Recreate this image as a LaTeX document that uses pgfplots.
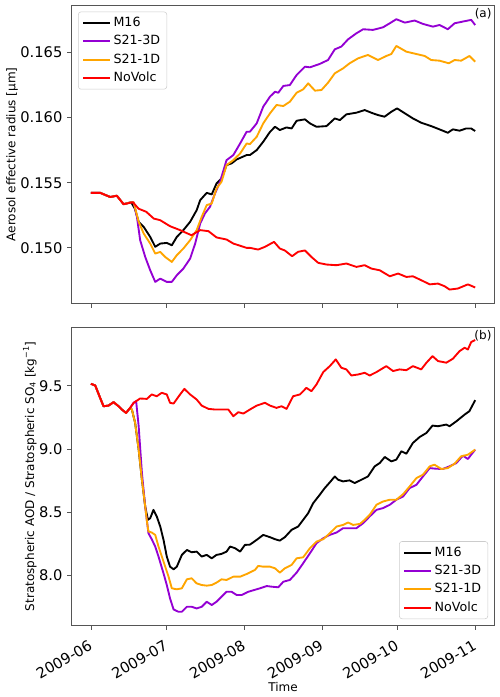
\documentclass[border=0pt]{standalone}
\usepackage{fontspec}
\setmainfont{DejaVu Sans}
\usepackage{pgfplots}
\pgfplotsset{compat=1.18}
\definecolor{mpurple}{HTML}{9400D3}
\definecolor{morange}{HTML}{FFA500}
\definecolor{mred}{HTML}{FF0000}
\definecolor{spine}{HTML}{555555}
\pgfplotsset{
  myaxis/.style={
    scale only axis, width=317pt, height=223.2pt,
    xmin=-7.65, xmax=160.65,
    xtick={0,30,61,92,122,153},
    axis line style={spine, line width=0.6pt},
    tick style={spine, line width=0.6pt},
    major tick length=3.5pt,
    tick align=outside,
    xtick pos=bottom, ytick pos=left,
    tick label style={font=\fontsize{11}{13}\selectfont},
    /pgf/number format/assume math mode=true,
    label style={font=\fontsize{9}{11}\selectfont},
    ylabel shift=-5pt,
    legend style={font=\fontsize{9.5}{11}\selectfont, draw=black!20, rounded corners=2pt,
      inner xsep=3pt, inner ysep=2pt, row sep=1.2pt},
    legend cell align=left,
    legend image code/.code={\draw[#1, line width=1.5pt] (0cm,0cm) -- (0.7cm,0cm);},
    every axis plot/.append style={line width=1.4pt, line join=round},
  }
}
\begin{document}
\begin{tikzpicture}
\useasboundingbox (0,0) rectangle (375pt,522.75pt);
% ---------------- Panel (a)
\begin{axis}[myaxis, at={(53.8pt,295.3pt)}, anchor=south west,
  ymin=0.14575, ymax=0.16858,
  ytick={0.150,0.155,0.160,0.165},
  yticklabel style={/pgf/number format/fixed, /pgf/number format/precision=3, /pgf/number format/fixed zerofill},
  xticklabels={},
  ylabel={Aerosol effective radius [μm]},
  legend style={at={(0.015,0.98)}, anchor=north west},
]
\addplot[black] coordinates {
(0,0.15422)(3.7,0.15422)(7.7,0.1539)(10.3,0.1540)(13,0.15335)(16,0.1535)
(17.5,0.1530)(19,0.1520)(21,0.15161)(23.6,0.15084)(25.6,0.15008)(27.6,0.15033)(30.2,0.15038)
(32.2,0.1502)(34.2,0.15084)(36.8,0.15136)(39.5,0.1520)(42.1,0.15289)(43.5,0.15366)
(46.1,0.15422)(48.1,0.1541)(50,0.15494)(52,0.15532)(54,0.15635)(56,0.15648)(58,0.15678)
(62,0.15712)(63.3,0.15712)(66,0.1575)(68.6,0.15814)(71.3,0.1589)(73.3,0.15929)(75.2,0.15904)
(77.9,0.15924)(79.9,0.15916)(81.9,0.15975)(85.2,0.15986)(87.2,0.15955)(89.8,0.15929)
(93.8,0.15934)(97.1,0.15993)(99.1,0.1598)(101.7,0.16024)(105.7,0.16037)(109,0.16057)
(112.3,0.16032)(114.3,0.16019)(116.9,0.16006)(119.6,0.16044)(121.9,0.1607)(125,0.16032)
(128.2,0.15993)(131.5,0.1596)(135.5,0.15934)(138.8,0.15909)(142.1,0.15883)(144.1,0.15909)
(146.8,0.15899)(149.4,0.15916)(151.4,0.15916)(153,0.15896)
};
\addlegendentry{M16}
\addplot[mpurple] coordinates {
(0,0.15422)(3.7,0.15422)(7.7,0.1539)(10.3,0.1540)(13,0.15335)(16,0.1535)
(17,0.1535)(18.3,0.15238)(19.6,0.15059)(21.6,0.14931)(23.6,0.14828)(25.6,0.14739)
(27.6,0.14764)(30.2,0.14739)(32.2,0.14739)(34.2,0.1479)(36.8,0.14841)(39.5,0.14918)
(41.5,0.15033)(43.5,0.15187)(45.4,0.15264)(47.4,0.15315)(49.4,0.15417)(51.4,0.15507)
(54,0.15673)(56.7,0.15712)(59.4,0.15801)(62,0.15891)(63.3,0.15891)(66,0.15955)
(68.6,0.16083)(71.3,0.1616)(73.3,0.16198)(74.6,0.1619)(76.6,0.16242)(79.2,0.16249)
(81.9,0.16326)(85.2,0.1639)(87.2,0.16385)(91.1,0.16411)(94.4,0.16441)(97.1,0.16523)
(99.7,0.16544)(102.4,0.166)(105.7,0.16646)(108.4,0.16677)(112.3,0.16672)(116.3,0.16692)
(119,0.16723)(121.6,0.16754)(125,0.16728)(128.9,0.16744)(132.2,0.16718)(136.2,0.16697)
(138.8,0.1671)(142.1,0.16677)(144.8,0.16723)(148.1,0.16736)(151.4,0.16749)(153,0.1671)
};
\addlegendentry{S21-3D}
\addplot[morange] coordinates {
(0,0.15422)(3.7,0.15422)(7.7,0.1539)(10.3,0.1540)(13,0.15335)(16,0.1535)
(17,0.1535)(19,0.1520)(21,0.1511)(23.6,0.15033)(25.6,0.14956)(27.6,0.14969)(29.5,0.14931)
(32.2,0.14892)(34.2,0.14944)(36.8,0.14995)(39.5,0.15059)(42.1,0.15136)(44.1,0.15238)
(46.1,0.15328)(48.1,0.1534)(50,0.15456)(52,0.15507)(54,0.15635)(56.7,0.15673)(59.4,0.15724)
(62,0.15801)(63.3,0.15796)(66,0.15852)(68.6,0.15955)(71.3,0.16032)(73.9,0.16096)
(76.6,0.16088)(79.2,0.16121)(81.9,0.1619)(84.5,0.16216)(86.5,0.16262)(89.2,0.16206)
(91.8,0.16211)(94.4,0.16267)(97.1,0.16339)(100.4,0.16377)(103,0.16416)(106.4,0.16454)
(110.3,0.1648)(114.3,0.16441)(117.6,0.16472)(119.6,0.16487)(121.6,0.16549)(125.6,0.16505)
(129.6,0.16487)(132.9,0.16472)(135.5,0.16441)(138.8,0.16436)(142.5,0.16416)(144.8,0.16441)
(147.4,0.16436)(150.7,0.16472)(153,0.16428)
};
\addlegendentry{S21-1D}
\addplot[mred] coordinates {
(0,0.15422)(3.7,0.15422)(7.7,0.1539)(10.3,0.1540)(13,0.15335)(16.7,0.1535)(19,0.1530)
(22,0.15277)(25,0.15225)(27.6,0.15212)(31.5,0.15166)(35.5,0.15136)(40,0.15097)
(43.5,0.15136)(46.8,0.15128)(50,0.1508)(54,0.15064)(56.7,0.15033)(62,0.1500)(63.3,0.1500)
(66.6,0.14987)(69.3,0.15008)(72.9,0.15046)(75.2,0.14995)(77.2,0.1498)(80.1,0.14936)
(82.5,0.1497)(85.2,0.1498)(87.8,0.1493)(90.5,0.14885)(93.8,0.14872)(97.8,0.14867)
(101.7,0.1488)(105.7,0.14854)(109,0.14867)(111.7,0.14841)(115,0.14828)(119,0.14782)
(122.3,0.14803)(125.6,0.14777)(128.2,0.14782)(131.5,0.14752)(134.9,0.1472)(138.2,0.14726)
(140.8,0.14706)(142.8,0.1468)(146.1,0.14688)(150.1,0.1472)(153,0.14696)
};
\addlegendentry{NoVolc}
\node[anchor=north east, inner sep=2pt, font=\fontsize{9}{11}\selectfont] at (rel axis cs:1,1) {(a)};
\end{axis}
% ---------------- Panel (b)
\begin{axis}[myaxis, at={(53.8pt,54pt)}, anchor=south west,
  ymin=7.61, ymax=9.962,
  ytick={8.0,8.5,9.0,9.5},
  yticklabel style={/pgf/number format/fixed, /pgf/number format/precision=1, /pgf/number format/fixed zerofill},
  xticklabels={2009-06,2009-07,2009-08,2009-09,2009-10,2009-11},
  xticklabel style={rotate=30, anchor=north east, inner sep=1pt, xshift=-4.5pt, yshift=-4pt},
  xlabel={Time},
  xlabel style={yshift=3pt},
  ylabel={Stratospheric AOD / Stratospheric SO\textsubscript{4} [kg\textsuperscript{−1}]},
  legend style={at={(0.985,0.02)}, anchor=south east},
]
\addplot[black] coordinates {
(0,9.516)(1.7,9.503)(3.4,9.418)(5,9.339)(7,9.344)(9,9.371)(11,9.339)(12.3,9.313)(14,9.286)
(15.6,9.326)(16.3,9.313)(17.6,9.207)(19,8.996)(20.3,8.758)(21.6,8.547)(22.7,8.441)(23.6,8.454)
(24.9,8.52)(26.2,8.468)(27.6,8.388)(28.9,8.283)(30.2,8.151)(31.5,8.071)(32.9,8.05)(34.2,8.071)
(36.2,8.164)(38.2,8.203)(40.1,8.185)(42.1,8.19)(44.1,8.151)(46.1,8.164)(48.1,8.137)(50,8.164)
(52,8.172)(54,8.19)(55.4,8.23)(57.4,8.217)(59.4,8.19)(61.3,8.243)(63.3,8.245)(66,8.283)
(68.6,8.322)(71.3,8.304)(73.3,8.288)(75.2,8.277)(77.2,8.304)(79.9,8.362)(82.5,8.388)
(84.5,8.441)(86.5,8.494)(88.5,8.573)(91.1,8.639)(93.1,8.692)(95.1,8.737)(97.1,8.784)
(98.4,8.758)(100.4,8.745)(103,8.753)(105,8.732)(107.7,8.758)(110.3,8.784)(113,8.864)
(115,8.89)(117,8.938)(119.6,8.903)(121.6,8.917)(123.6,8.983)(125.6,8.964)(128.2,9.049)
(130.9,9.096)(133.6,9.128)(136,9.186)(138.2,9.181)(141.5,9.194)(142.8,9.181)(145.5,9.22)
(148.8,9.273)(150.7,9.3)(153,9.387)
};
\addlegendentry{M16}
\addplot[mpurple] coordinates {
(0,9.516)(1.7,9.503)(3.4,9.418)(5,9.339)(7,9.344)(9,9.371)(11,9.339)(12.3,9.313)(14,9.286)
(15.6,9.326)(17,9.366)(18,9.379)(19,9.181)(20.3,8.811)(21.6,8.547)(22.9,8.335)(24.2,8.288)
(25.6,8.23)(26.9,8.151)(28.9,8.018)(30.2,7.926)(31.5,7.82)(32.9,7.733)(34.8,7.715)(36.2,7.715)
(38.2,7.754)(40.1,7.754)(42.1,7.741)(44.1,7.754)(46.1,7.794)(48.1,7.768)(50,7.794)(52,7.834)
(54,7.873)(56,7.873)(58,7.847)(60,7.847)(62.7,7.873)(67.3,7.9)(70,7.918)(71.9,7.913)
(74.6,7.908)(76.6,7.952)(79.2,7.966)(81.9,8.024)(84.5,8.098)(87.2,8.177)(89.8,8.256)
(92.5,8.296)(95.1,8.322)(97.8,8.341)(100.4,8.375)(103,8.375)(105.7,8.375)(108.4,8.415)
(111,8.468)(113.7,8.52)(116.3,8.534)(119,8.56)(121.6,8.6)(124.3,8.626)(126.9,8.692)
(129.6,8.718)(132.2,8.784)(134.9,8.85)(137.5,8.845)(140.1,8.843)(142.8,8.864)(145.5,8.89)
(148.1,8.948)(150.1,8.922)(151.4,8.956)(153,8.996)
};
\addlegendentry{S21-3D}
\addplot[morange] coordinates {
(0,9.516)(1.7,9.503)(3.4,9.418)(5,9.339)(7,9.344)(9,9.371)(11,9.339)(12.3,9.313)(14,9.286)
(15.6,9.326)(16.3,9.313)(17.6,9.207)(19,8.996)(20.3,8.758)(21.6,8.547)(22.3,8.428)(22.9,8.349)
(24.2,8.341)(25.6,8.322)(26.9,8.23)(28.9,8.111)(30.9,7.992)(32.2,7.9)(34.2,7.892)(36.2,7.9)
(38.2,7.971)(40.1,7.979)(42.1,7.939)(44.1,7.926)(46.1,7.921)(48.1,7.926)(50,7.945)(52,7.971)
(54,7.966)(56.7,7.992)(59.4,7.992)(62,8.013)(65.3,8.045)(66.6,8.077)(68.6,8.071)(71.3,8.071)
(73.3,8.058)(75.2,8.024)(77.2,8.058)(79.9,8.085)(81.9,8.137)(84.5,8.145)(87.2,8.217)
(89.8,8.269)(92.5,8.288)(95.1,8.335)(97.8,8.388)(100.4,8.401)(102.4,8.42)(104.4,8.401)
(107.1,8.409)(109,8.441)(111,8.481)(113.7,8.56)(116.3,8.586)(119,8.6)(121.6,8.6)(124.3,8.644)
(126.9,8.705)(129.6,8.771)(132.2,8.798)(134.9,8.864)(136.8,8.877)(139.5,8.843)(142.1,8.85)
(144.8,8.885)(147.4,8.943)(150.1,8.956)(153,8.996)
};
\addlegendentry{S21-1D}
\addplot[mred] coordinates {
(0,9.516)(1.7,9.503)(3.4,9.418)(5,9.339)(7,9.344)(9,9.371)(11,9.339)(12.3,9.313)(14,9.286)
(15.6,9.326)(17,9.366)(19.6,9.4)(22.3,9.397)(24.2,9.432)(26.2,9.418)(28.2,9.445)(30.2,9.432)
(31.5,9.366)(32.9,9.36)(35.5,9.432)(37.2,9.476)(39.5,9.432)(42.1,9.392)(44.1,9.344)
(46.8,9.318)(49.4,9.313)(52,9.313)(54.7,9.313)(56.7,9.26)(58.7,9.292)(60.7,9.281)(63.3,9.313)
(66,9.344)(69.3,9.366)(71.3,9.344)(73.9,9.326)(75.9,9.339)(77.9,9.318)(80.5,9.418)(83.2,9.432)
(85.8,9.484)(87.8,9.458)(89.8,9.511)(92.5,9.609)(95.1,9.656)(97.5,9.709)(99.7,9.643)
(101.7,9.63)(103.7,9.582)(106.4,9.59)(109,9.603)(111,9.582)(113.7,9.609)(117.6,9.656)
(120.3,9.617)(122.9,9.63)(125.6,9.624)(128.2,9.656)(131.5,9.63)(133.6,9.683)(136,9.735)
(138.2,9.696)(141.5,9.683)(144.1,9.714)(146.8,9.775)(148.8,9.801)(150.1,9.788)(151.4,9.846)
(153,9.862)
};
\addlegendentry{NoVolc}
\node[anchor=north east, inner sep=2pt, font=\fontsize{9}{11}\selectfont] at (rel axis cs:1,1) {(b)};
\node[anchor=south west, inner xsep=0pt, inner ysep=1pt, font=\fontsize{11}{13}\selectfont] at (rel axis cs:0,1) {1e−12};
\end{axis}
\end{tikzpicture}
\end{document}
